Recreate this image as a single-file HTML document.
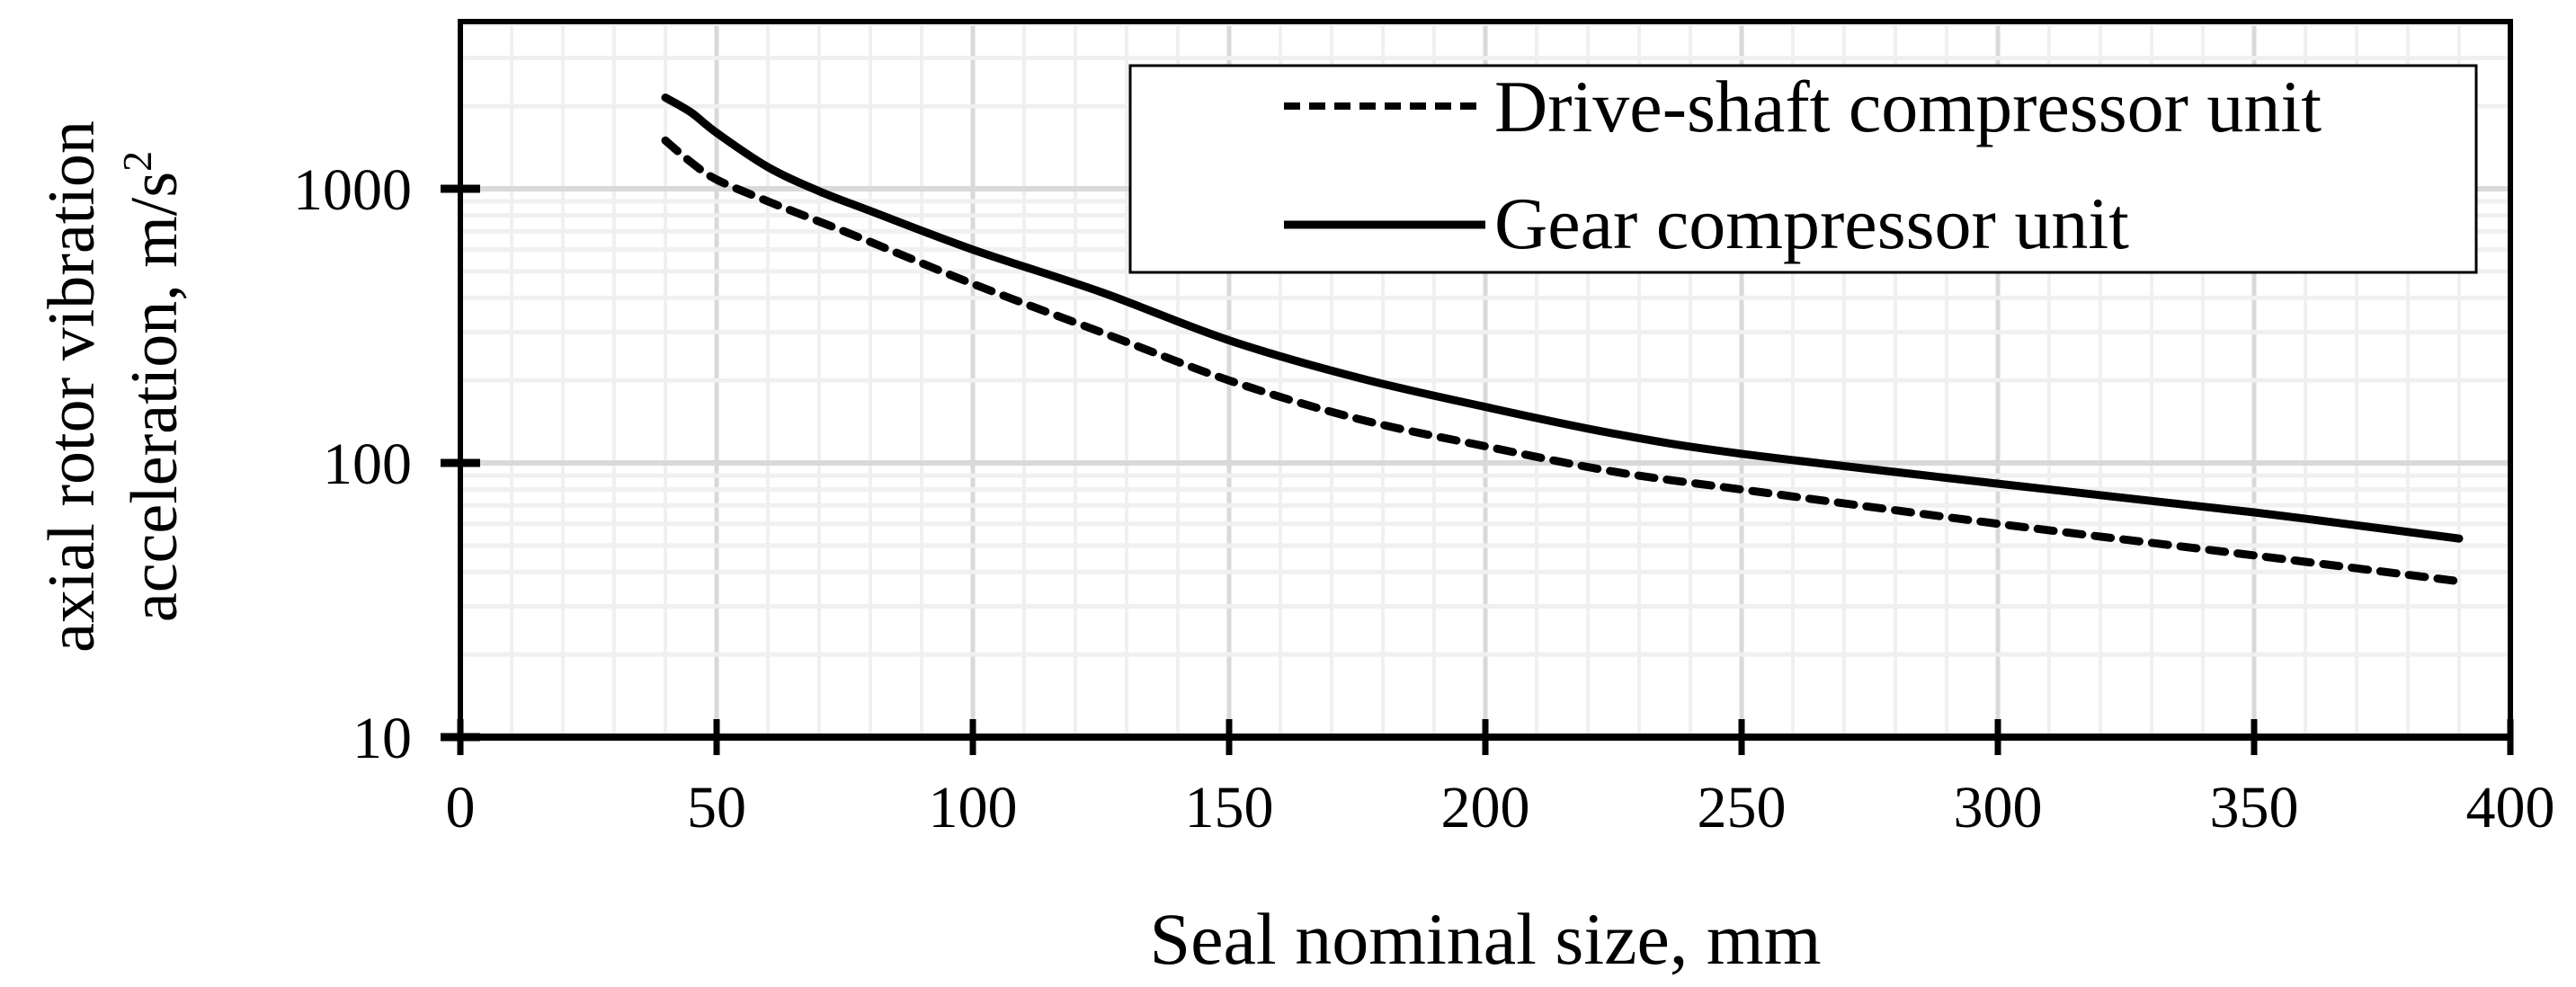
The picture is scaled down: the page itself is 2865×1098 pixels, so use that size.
<!DOCTYPE html>
<html><head><meta charset="utf-8"><style>
html,body{margin:0;padding:0;background:#fff}
svg{display:block}
text{font-family:"Liberation Serif",serif;fill:#000}
</style></head><body>
<svg id="chart" width="2865" height="1098" viewBox="0 0 2865 1098" xmlns="http://www.w3.org/2000/svg">
<g id="grid"></g>
<g id="series"></g>
<g id="axes"></g>
<g id="legend">
  <rect x="1257" y="73" width="1497" height="230" fill="#fff" stroke="#000" stroke-width="3"/>
  <line x1="1428" y1="118" x2="1652" y2="118" stroke="#000" stroke-width="8" stroke-dasharray="18 10"/>
  <text x="1662" y="146" font-size="82">Drive-shaft compressor unit</text>
  <line x1="1428" y1="250" x2="1652" y2="250" stroke="#000" stroke-width="9"/>
  <text x="1662" y="276" font-size="82">Gear compressor unit</text>
</g>
<text x="1652" y="1072" font-size="82" text-anchor="middle">Seal nominal size, mm</text>
<g>
  <text x="0" y="0" font-size="74" text-anchor="middle" transform="translate(104,430) rotate(-90)">axial rotor vibration</text>
  <text x="0" y="0" font-size="74" text-anchor="middle" transform="translate(196,430) rotate(-90)">acceleration, m/s<tspan font-size="46" dy="-28">2</tspan></text>
</g>
</svg>
<script>
const xCategories = [40,45,50,60,70,80,100,125,150,175,200,225,250,300,350,390];
const gearValues = [2150,1900,1600,1200,980,830,600,420,280,205,160,128,108,84,66,53];
const driveValues = [1500,1250,1080,900,760,640,450,300,200,145,115,93,80,60,46,37];
const xTicks = [0,50,100,150,200,250,300,350,400];
const yTicks = [10,100,1000];

const L=512,R=2792,B=820,T=24;
const x=v=>L+(v/400)*(R-L);
const y=v=>B-(Math.log10(v)-1)*305;
const NS="http://www.w3.org/2000/svg";
function mk(tag,attrs,parent){const e=document.createElementNS(NS,tag);for(const k in attrs)e.setAttribute(k,attrs[k]);parent.appendChild(e);return e;}
const grid=document.getElementById('grid'),axes=document.getElementById('axes'),series=document.getElementById('series');
for(let v=10;v<400;v+=10){
  const g=mk('line',{x1:x(v),x2:x(v),y1:T,y2:B,stroke:v%50===0?'#d9d9d9':'#f0f0f0','stroke-width':v%50===0?5:4},grid);
  
  
}
for(let d=10;d<=1000;d*=10){for(let m=1;m<=9;m++){const v=d*m;if(v<=10||y(v)<T)continue;
  const g=mk('line',{x1:L,x2:R,y1:y(v),y2:y(v),stroke:m===1?'#d9d9d9':'#f0f0f0','stroke-width':m===1?6:5},grid);
  
  
}}
function path(vals){
  const p=vals.map((v,i)=>[x(xCategories[i]),y(v)]);
  let d='M'+p[0][0].toFixed(1)+','+p[0][1].toFixed(1);
  for(let i=0;i<p.length-1;i++){
    const p0=p[Math.max(0,i-1)],p1=p[i],p2=p[i+1],p3=p[Math.min(p.length-1,i+2)];
    const c1=[p1[0]+(p2[0]-p0[0])/6,p1[1]+(p2[1]-p0[1])/6];
    const c2=[p2[0]-(p3[0]-p1[0])/6,p2[1]-(p3[1]-p1[1])/6];
    d+=' C'+c1.map(n=>n.toFixed(1)).join(',')+' '+c2.map(n=>n.toFixed(1)).join(',')+' '+p2[0].toFixed(1)+','+p2[1].toFixed(1);
  }
  return d;
}
const pd=mk('path',{d:path(driveValues),fill:'none',stroke:'#000','stroke-width':9,'stroke-dasharray':'18 14','stroke-linecap':'round','stroke-linejoin':'round'},series);


const pg=mk('path',{d:path(gearValues),fill:'none',stroke:'#000','stroke-width':9,'stroke-linejoin':'round','stroke-linecap':'round'},series);


const fr=mk('rect',{x:L,y:T,width:R-L,height:B-T,fill:'none',stroke:'#000','stroke-width':6},axes);


const xa=mk('line',{x1:L,x2:R,y1:B,y2:B,stroke:'#000','stroke-width':8},axes);


xTicks.forEach(v=>{
  const t=mk('line',{x1:x(v),x2:x(v),y1:B-20,y2:B+20,stroke:'#000','stroke-width':7},axes);
  
  
  const l=mk('text',{x:x(v),y:B+100,'font-size':66,'text-anchor':'middle'},axes);l.textContent=v;
  
  
});
yTicks.forEach(v=>{
  const t=mk('line',{x1:L-22,x2:L+22,y1:y(v),y2:y(v),stroke:'#000','stroke-width':9},axes);
  
  
  const l=mk('text',{x:458,y:y(v)+23,'font-size':66,'text-anchor':'end'},axes);l.textContent=v;
  
  
});
</script>
</body></html>
